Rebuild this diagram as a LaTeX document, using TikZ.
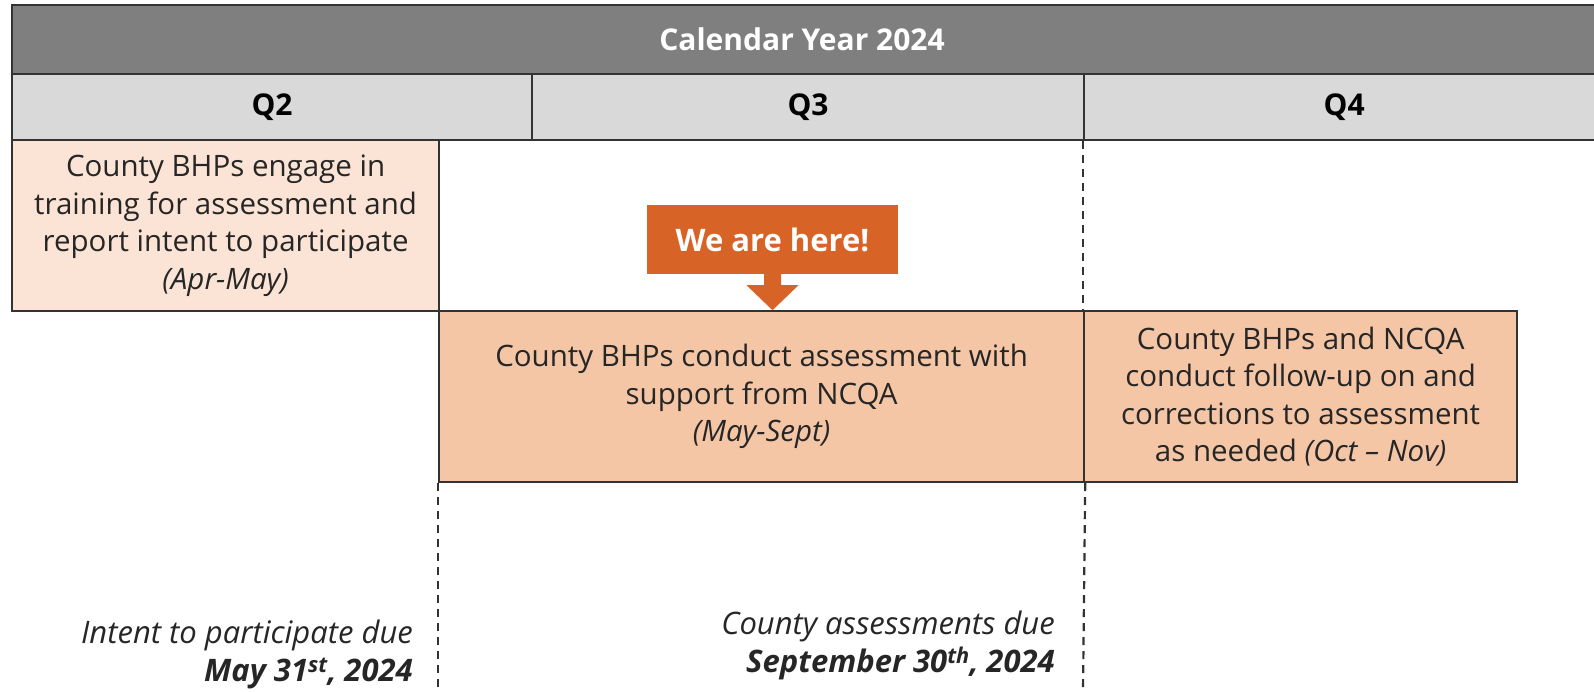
\documentclass[tikz,border=0pt]{standalone}
\usepackage{fontspec}
\setmainfont{Open Sans}
\usetikzlibrary{positioning}
\definecolor{hdrgray}{HTML}{7F7F7F}
\definecolor{qgray}{HTML}{D9D9D9}
\definecolor{edgecol}{HTML}{333333}
\definecolor{lightpeach}{HTML}{FBE4D5}
\definecolor{peach}{HTML}{F4C6A6}
\definecolor{callfill}{HTML}{D76327}
\definecolor{txt}{HTML}{262626}
\tikzset{
  cell/.style={draw=edgecol, line width=2.2pt, anchor=north west, inner sep=0pt, align=center, text=txt},
  hdr/.style={cell, fill=hdrgray},
  qcell/.style={cell, fill=qgray, text=black, font=\fontsize{30}{34}\selectfont\bfseries},
  taskbox/.style={cell, font=\fontsize{29.5}{37.5}\selectfont},
  deadline/.style={anchor=east, align=right, inner sep=0pt, text=txt, font=\fontsize{31}{38}\selectfont},
  guide/.style={draw=edgecol, line width=2.2pt, dash pattern=on 8pt off 6pt},
}
\begin{document}
\begin{tikzpicture}[x=1pt,y=-1pt]
\useasboundingbox (0,0) rectangle (1594,691);
\fill[white] (0,0) rectangle (1594,691);

% year header and quarter row
\node[hdr, minimum width=1590pt, minimum height=69pt] (year) at (11,4) {};
\node at (802,39) [text=white, font=\fontsize{30}{34}\selectfont\bfseries] (yeartxt) {Calendar Year 2024};
\node[qcell, minimum width=520pt, minimum height=66pt] (q2) at (11,73) {Q2};
\node[qcell, minimum width=552pt, minimum height=66pt] (q3) at (531,73) {Q3};
\node[qcell, minimum width=520pt, minimum height=66pt] (q4) at (1083,73) {Q4};

% activity bars
\node[taskbox, fill=lightpeach, minimum width=427pt, minimum height=171pt] (train) at (11,139)
  {County BHPs engage in\\training for assessment and\\report intent to participate\\\textit{(Apr-May)}};
\node[taskbox, fill=peach, minimum width=645pt, minimum height=171pt] (assess) at (438,310)
  {County BHPs conduct assessment with\\support from NCQA\\\textit{(May-Sept)}};
\node[taskbox, fill=peach, minimum width=433pt, minimum height=171pt] (follow) at (1083,310)
  {County BHPs and NCQA\\conduct follow-up on and\\corrections to assessment\\as needed \textit{(Oct -- Nov)}};

% deadline guides
\coordinate (may) at (438,691);
\coordinate (sept) at (1083,691);
\draw[guide] (assess.south west) -- (may);
\draw[guide] (q4.south west) -- (follow.north west);
\draw[guide] (assess.south east) -- (sept);

% current position marker
\node[fill=callfill, text=white, inner sep=0pt, minimum width=251pt, minimum height=69pt,
      font=\fontsize{31}{34}\selectfont\bfseries] (here) at (772.5,239.5) {We are here!};
\fill[callfill] ([xshift=-8.5pt]here.south) -- ([xshift=-8.5pt,yshift=-11pt]here.south)
  -- ([xshift=-26pt,yshift=-11pt]here.south) -- ([yshift=-36pt]here.south)
  -- ([xshift=26pt,yshift=-11pt]here.south) -- ([xshift=8.5pt,yshift=-11pt]here.south)
  -- ([xshift=8.5pt]here.south) -- cycle;

% deadline labels
\node[deadline] (mayl) at (413,654) {\textit{Intent to participate due}\\\textbf{\textit{May 31\textsuperscript{st}, 2024}}};
\node[deadline] (septl) at (1055,645) {\textit{County assessments due}\\\textbf{\textit{September 30\textsuperscript{th}, 2024}}};
\end{tikzpicture}
\end{document}
